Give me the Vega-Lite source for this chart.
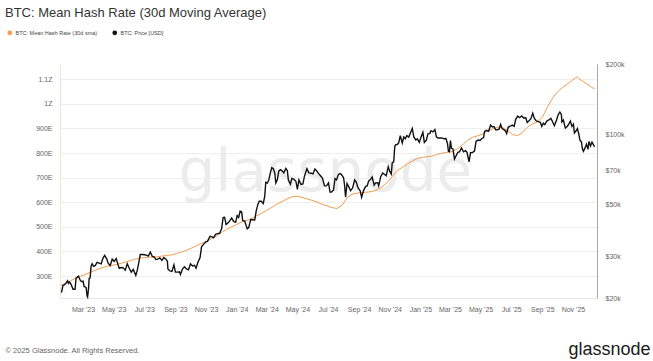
{
  "$schema": "https://vega.github.io/schema/vega-lite/v6.json",
  "width": 537,
  "height": 234,
  "autosize": "none",
  "padding": {"left": 60, "top": 64, "right": 56, "bottom": 63},
  "background": "white",
  "title": {
    "text": "BTC: Mean Hash Rate (30d Moving Average)",
    "anchor": "start",
    "frame": "group",
    "dx": -55,
    "offset": 10,
    "fontSize": 13,
    "fontWeight": "normal",
    "font": "Liberation Sans",
    "color": "#333333"
  },
  "config": {
    "view": {"stroke": null},
    "font": "Liberation Sans",
    "axis": {"labelFont": "Liberation Sans", "labelFontSize": 7, "labelColor": "#666666", "ticks": false}
  },
  "datasets": {
    "hash": [
      {"d":"2023-01-16","v":262},{"d":"2023-01-26","v":270},{"d":"2023-02-05","v":282},{"d":"2023-02-15","v":293},
      {"d":"2023-02-25","v":300},{"d":"2023-03-07","v":308},{"d":"2023-03-17","v":317},{"d":"2023-03-27","v":325},
      {"d":"2023-04-06","v":333},{"d":"2023-04-16","v":339},{"d":"2023-04-26","v":343},{"d":"2023-05-06","v":347},
      {"d":"2023-05-16","v":352},{"d":"2023-05-26","v":358},{"d":"2023-06-05","v":364},{"d":"2023-06-15","v":371},
      {"d":"2023-06-25","v":374},{"d":"2023-07-05","v":376},{"d":"2023-07-15","v":377},{"d":"2023-07-25","v":378},
      {"d":"2023-08-04","v":381},{"d":"2023-08-14","v":384},{"d":"2023-08-24","v":386},{"d":"2023-09-03","v":392},
      {"d":"2023-09-13","v":398},{"d":"2023-09-23","v":405},{"d":"2023-10-03","v":414},{"d":"2023-10-13","v":424},
      {"d":"2023-10-23","v":433},{"d":"2023-11-02","v":441},{"d":"2023-11-12","v":452},{"d":"2023-11-22","v":463},
      {"d":"2023-12-02","v":477},{"d":"2023-12-12","v":490},{"d":"2023-12-22","v":500},{"d":"2024-01-01","v":510},
      {"d":"2024-01-11","v":520},{"d":"2024-01-21","v":526},{"d":"2024-01-31","v":534},{"d":"2024-02-10","v":545},
      {"d":"2024-02-20","v":556},{"d":"2024-03-01","v":567},{"d":"2024-03-11","v":580},{"d":"2024-03-21","v":592},
      {"d":"2024-03-31","v":603},{"d":"2024-04-10","v":613},{"d":"2024-04-20","v":622},{"d":"2024-04-30","v":625},
      {"d":"2024-05-10","v":620},{"d":"2024-05-20","v":614},{"d":"2024-05-30","v":608},{"d":"2024-06-09","v":601},
      {"d":"2024-06-19","v":592},{"d":"2024-06-29","v":586},{"d":"2024-07-09","v":578},{"d":"2024-07-19","v":575},
      {"d":"2024-07-29","v":588},{"d":"2024-08-08","v":618},{"d":"2024-08-18","v":633},{"d":"2024-08-28","v":637},
      {"d":"2024-09-07","v":640},{"d":"2024-09-17","v":641},{"d":"2024-09-27","v":644},{"d":"2024-10-07","v":650},
      {"d":"2024-10-17","v":663},{"d":"2024-10-27","v":680},{"d":"2024-11-06","v":705},{"d":"2024-11-16","v":728},
      {"d":"2024-11-26","v":742},{"d":"2024-12-06","v":756},{"d":"2024-12-16","v":768},{"d":"2024-12-26","v":778},
      {"d":"2025-01-05","v":783},{"d":"2025-01-15","v":785},{"d":"2025-01-25","v":788},{"d":"2025-02-04","v":795},
      {"d":"2025-02-14","v":800},{"d":"2025-02-24","v":803},{"d":"2025-03-06","v":806},{"d":"2025-03-16","v":817},
      {"d":"2025-03-26","v":833},{"d":"2025-04-05","v":852},{"d":"2025-04-15","v":864},{"d":"2025-04-25","v":870},
      {"d":"2025-05-05","v":877},{"d":"2025-05-15","v":889},{"d":"2025-05-25","v":898},{"d":"2025-06-04","v":905},
      {"d":"2025-06-14","v":903},{"d":"2025-06-24","v":892},{"d":"2025-07-04","v":875},{"d":"2025-07-14","v":871},
      {"d":"2025-07-24","v":885},{"d":"2025-08-03","v":907},{"d":"2025-08-13","v":918},{"d":"2025-08-23","v":928},
      {"d":"2025-09-02","v":948},{"d":"2025-09-12","v":990},{"d":"2025-09-22","v":1025},{"d":"2025-10-02","v":1050},
      {"d":"2025-10-12","v":1068},{"d":"2025-10-22","v":1082},{"d":"2025-11-01","v":1098},{"d":"2025-11-09","v":1110},
      {"d":"2025-11-17","v":1097},{"d":"2025-11-25","v":1086},{"d":"2025-12-03","v":1075},{"d":"2025-12-09","v":1066},
      {"d":"2025-12-14","v":1062}
    ],
    "price": [
      {"d":"2023-01-17","v":21100},{"d":"2023-01-20","v":22700},{"d":"2023-01-22","v":22700},{"d":"2023-01-25","v":23000},
      {"d":"2023-01-29","v":23700},{"d":"2023-01-31","v":23100},{"d":"2023-02-02","v":23400},{"d":"2023-02-05","v":22900},
      {"d":"2023-02-09","v":21800},{"d":"2023-02-13","v":21800},{"d":"2023-02-15","v":24300},{"d":"2023-02-20","v":24800},
      {"d":"2023-02-23","v":23900},{"d":"2023-02-26","v":23500},{"d":"2023-03-01","v":23600},{"d":"2023-03-03","v":22400},
      {"d":"2023-03-07","v":22200},{"d":"2023-03-09","v":20400},{"d":"2023-03-10","v":20200},{"d":"2023-03-12","v":22100},
      {"d":"2023-03-13","v":24200},{"d":"2023-03-15","v":24400},{"d":"2023-03-17","v":27400},{"d":"2023-03-19","v":28000},
      {"d":"2023-03-22","v":27300},{"d":"2023-03-25","v":27500},{"d":"2023-03-29","v":28400},{"d":"2023-04-02","v":28200},
      {"d":"2023-04-06","v":28000},{"d":"2023-04-10","v":29700},{"d":"2023-04-13","v":30400},{"d":"2023-04-17","v":29400},
      {"d":"2023-04-20","v":28200},{"d":"2023-04-24","v":27500},{"d":"2023-04-28","v":29300},{"d":"2023-05-02","v":28700},
      {"d":"2023-05-06","v":29500},{"d":"2023-05-10","v":27600},{"d":"2023-05-12","v":26800},{"d":"2023-05-16","v":27000},
      {"d":"2023-05-20","v":26900},{"d":"2023-05-24","v":26300},{"d":"2023-05-28","v":28000},{"d":"2023-06-01","v":26800},
      {"d":"2023-06-05","v":25800},{"d":"2023-06-09","v":26500},{"d":"2023-06-14","v":25000},{"d":"2023-06-17","v":26300},
      {"d":"2023-06-20","v":28300},{"d":"2023-06-23","v":30700},{"d":"2023-06-27","v":30700},{"d":"2023-07-01","v":30600},
      {"d":"2023-07-05","v":30500},{"d":"2023-07-09","v":30200},{"d":"2023-07-13","v":31400},{"d":"2023-07-17","v":30100},
      {"d":"2023-07-21","v":29900},{"d":"2023-07-24","v":29200},{"d":"2023-07-28","v":29300},{"d":"2023-08-01","v":29700},
      {"d":"2023-08-05","v":29000},{"d":"2023-08-09","v":29800},{"d":"2023-08-13","v":29300},{"d":"2023-08-16","v":28700},
      {"d":"2023-08-17","v":26600},{"d":"2023-08-21","v":26100},{"d":"2023-08-25","v":26000},{"d":"2023-08-29","v":27700},
      {"d":"2023-09-01","v":25800},{"d":"2023-09-05","v":25800},{"d":"2023-09-09","v":25900},{"d":"2023-09-11","v":25200},
      {"d":"2023-09-15","v":26600},{"d":"2023-09-19","v":27200},{"d":"2023-09-23","v":26600},{"d":"2023-09-27","v":26400},
      {"d":"2023-10-01","v":28000},{"d":"2023-10-05","v":27400},{"d":"2023-10-09","v":27600},{"d":"2023-10-12","v":26800},
      {"d":"2023-10-16","v":28500},{"d":"2023-10-20","v":29700},{"d":"2023-10-23","v":33100},{"d":"2023-10-27","v":33900},
      {"d":"2023-10-31","v":34700},{"d":"2023-11-04","v":35000},{"d":"2023-11-09","v":36700},{"d":"2023-11-13","v":36500},
      {"d":"2023-11-16","v":36200},{"d":"2023-11-20","v":37400},{"d":"2023-11-24","v":37700},{"d":"2023-11-28","v":37800},
      {"d":"2023-12-02","v":39500},{"d":"2023-12-05","v":44100},{"d":"2023-12-08","v":44200},{"d":"2023-12-11","v":41200},
      {"d":"2023-12-15","v":41900},{"d":"2023-12-18","v":42700},{"d":"2023-12-22","v":43900},{"d":"2023-12-26","v":42500},
      {"d":"2023-12-30","v":42100},{"d":"2024-01-02","v":45000},{"d":"2024-01-05","v":44200},{"d":"2024-01-08","v":47000},
      {"d":"2024-01-11","v":46600},{"d":"2024-01-13","v":42800},{"d":"2024-01-17","v":42700},{"d":"2024-01-22","v":39500},
      {"d":"2024-01-25","v":40000},{"d":"2024-01-29","v":43300},{"d":"2024-02-02","v":43200},{"d":"2024-02-06","v":43100},
      {"d":"2024-02-09","v":47100},{"d":"2024-02-12","v":50000},{"d":"2024-02-15","v":51800},{"d":"2024-02-19","v":51800},
      {"d":"2024-02-23","v":50700},{"d":"2024-02-26","v":54500},{"d":"2024-02-28","v":62400},{"d":"2024-03-02","v":62000},
      {"d":"2024-03-05","v":63800},{"d":"2024-03-08","v":68300},{"d":"2024-03-11","v":72100},{"d":"2024-03-14","v":71400},
      {"d":"2024-03-17","v":68400},{"d":"2024-03-19","v":62000},{"d":"2024-03-22","v":64000},{"d":"2024-03-25","v":69900},
      {"d":"2024-03-28","v":70700},{"d":"2024-04-01","v":69700},{"d":"2024-04-04","v":68500},{"d":"2024-04-08","v":71600},
      {"d":"2024-04-11","v":70100},{"d":"2024-04-13","v":63900},{"d":"2024-04-17","v":61300},{"d":"2024-04-20","v":64900},
      {"d":"2024-04-24","v":64300},{"d":"2024-04-28","v":63100},{"d":"2024-05-01","v":58300},{"d":"2024-05-04","v":63900},
      {"d":"2024-05-08","v":61200},{"d":"2024-05-12","v":61500},{"d":"2024-05-15","v":66200},{"d":"2024-05-20","v":71400},
      {"d":"2024-05-24","v":68500},{"d":"2024-05-28","v":68300},{"d":"2024-06-01","v":67800},{"d":"2024-06-05","v":71100},
      {"d":"2024-06-09","v":69600},{"d":"2024-06-12","v":68200},{"d":"2024-06-16","v":66600},{"d":"2024-06-20","v":64900},
      {"d":"2024-06-24","v":60300},{"d":"2024-06-28","v":60300},{"d":"2024-07-02","v":62100},{"d":"2024-07-05","v":56700},
      {"d":"2024-07-08","v":56700},{"d":"2024-07-12","v":57900},{"d":"2024-07-15","v":64800},{"d":"2024-07-18","v":64000},
      {"d":"2024-07-22","v":67600},{"d":"2024-07-26","v":68000},{"d":"2024-07-29","v":66800},{"d":"2024-08-01","v":65300},
      {"d":"2024-08-03","v":60800},{"d":"2024-08-05","v":54000},{"d":"2024-08-08","v":61700},{"d":"2024-08-12","v":59400},
      {"d":"2024-08-15","v":57500},{"d":"2024-08-19","v":59000},{"d":"2024-08-23","v":64000},{"d":"2024-08-26","v":62800},
      {"d":"2024-08-30","v":59100},{"d":"2024-09-03","v":57500},{"d":"2024-09-06","v":53900},{"d":"2024-09-10","v":57700},
      {"d":"2024-09-14","v":60000},{"d":"2024-09-17","v":60300},{"d":"2024-09-20","v":63200},{"d":"2024-09-24","v":64300},
      {"d":"2024-09-27","v":65800},{"d":"2024-10-01","v":60800},{"d":"2024-10-04","v":62100},{"d":"2024-10-08","v":62200},
      {"d":"2024-10-10","v":60300},{"d":"2024-10-14","v":66000},{"d":"2024-10-18","v":68400},{"d":"2024-10-22","v":67400},
      {"d":"2024-10-25","v":66600},{"d":"2024-10-29","v":72700},{"d":"2024-11-01","v":69500},{"d":"2024-11-04","v":67800},
      {"d":"2024-11-06","v":75600},{"d":"2024-11-09","v":76500},{"d":"2024-11-11","v":88700},{"d":"2024-11-13","v":90500},
      {"d":"2024-11-16","v":90600},{"d":"2024-11-19","v":92300},{"d":"2024-11-22","v":98900},{"d":"2024-11-26","v":91900},
      {"d":"2024-11-29","v":97500},{"d":"2024-12-02","v":95900},{"d":"2024-12-05","v":98800},{"d":"2024-12-09","v":97400},
      {"d":"2024-12-12","v":101200},{"d":"2024-12-16","v":106100},{"d":"2024-12-19","v":97500},{"d":"2024-12-23","v":94700},
      {"d":"2024-12-26","v":95800},{"d":"2024-12-30","v":92600},{"d":"2025-01-02","v":96900},{"d":"2025-01-06","v":102100},
      {"d":"2025-01-09","v":92500},{"d":"2025-01-13","v":94500},{"d":"2025-01-16","v":100500},{"d":"2025-01-20","v":101100},
      {"d":"2025-01-22","v":103700},{"d":"2025-01-26","v":102600},{"d":"2025-01-30","v":105000},{"d":"2025-02-02","v":97700},
      {"d":"2025-02-05","v":96600},{"d":"2025-02-09","v":96500},{"d":"2025-02-13","v":96600},{"d":"2025-02-17","v":95800},
      {"d":"2025-02-21","v":96100},{"d":"2025-02-24","v":91500},{"d":"2025-02-26","v":84700},{"d":"2025-02-28","v":84300},
      {"d":"2025-03-02","v":94200},{"d":"2025-03-04","v":87200},{"d":"2025-03-07","v":86700},{"d":"2025-03-10","v":78500},
      {"d":"2025-03-13","v":80900},{"d":"2025-03-17","v":84000},{"d":"2025-03-20","v":84200},{"d":"2025-03-24","v":87500},
      {"d":"2025-03-28","v":84300},{"d":"2025-04-01","v":85200},{"d":"2025-04-04","v":83800},{"d":"2025-04-08","v":76300},
      {"d":"2025-04-11","v":83600},{"d":"2025-04-15","v":83600},{"d":"2025-04-19","v":85100},{"d":"2025-04-22","v":93400},
      {"d":"2025-04-26","v":94600},{"d":"2025-04-30","v":94200},{"d":"2025-05-03","v":95900},{"d":"2025-05-07","v":97000},
      {"d":"2025-05-09","v":103000},{"d":"2025-05-13","v":104100},{"d":"2025-05-17","v":103100},{"d":"2025-05-21","v":109600},
      {"d":"2025-05-24","v":107800},{"d":"2025-05-28","v":107800},{"d":"2025-05-31","v":104600},{"d":"2025-06-04","v":104700},
      {"d":"2025-06-07","v":105600},{"d":"2025-06-10","v":110300},{"d":"2025-06-13","v":105900},{"d":"2025-06-17","v":104600},
      {"d":"2025-06-20","v":103300},{"d":"2025-06-22","v":100900},{"d":"2025-06-25","v":107300},{"d":"2025-06-29","v":108400},
      {"d":"2025-07-03","v":109600},{"d":"2025-07-07","v":108200},{"d":"2025-07-10","v":116000},{"d":"2025-07-14","v":119800},
      {"d":"2025-07-18","v":117900},{"d":"2025-07-22","v":119900},{"d":"2025-07-26","v":117600},{"d":"2025-07-30","v":117800},
      {"d":"2025-08-02","v":112500},{"d":"2025-08-05","v":114100},{"d":"2025-08-09","v":116500},{"d":"2025-08-13","v":123300},
      {"d":"2025-08-16","v":117400},{"d":"2025-08-20","v":114300},{"d":"2025-08-24","v":113500},{"d":"2025-08-28","v":112600},
      {"d":"2025-08-31","v":108200},{"d":"2025-09-03","v":111700},{"d":"2025-09-06","v":110200},{"d":"2025-09-10","v":114000},
      {"d":"2025-09-14","v":115300},{"d":"2025-09-18","v":117100},{"d":"2025-09-22","v":112700},{"d":"2025-09-25","v":109000},
      {"d":"2025-09-29","v":114300},{"d":"2025-10-02","v":120500},{"d":"2025-10-06","v":124700},{"d":"2025-10-09","v":121700},
      {"d":"2025-10-10","v":113200},{"d":"2025-10-13","v":115300},{"d":"2025-10-16","v":108200},{"d":"2025-10-17","v":106500},
      {"d":"2025-10-21","v":108400},{"d":"2025-10-24","v":111000},{"d":"2025-10-27","v":114100},{"d":"2025-10-30","v":108300},
      {"d":"2025-11-02","v":110600},{"d":"2025-11-04","v":101500},{"d":"2025-11-07","v":103400},{"d":"2025-11-10","v":106000},
      {"d":"2025-11-13","v":99700},{"d":"2025-11-15","v":94400},{"d":"2025-11-18","v":92900},{"d":"2025-11-20","v":86600},
      {"d":"2025-11-22","v":84700},{"d":"2025-11-25","v":87400},{"d":"2025-11-28","v":90900},{"d":"2025-12-01","v":86300},
      {"d":"2025-12-03","v":93400},{"d":"2025-12-06","v":89300},{"d":"2025-12-09","v":92700},{"d":"2025-12-12","v":90300},
      {"d":"2025-12-14","v":88500}
    ]
  },
  "encoding": {
    "x": {
      "field": "d",
      "type": "temporal",
      "scale": {"domain": [{"year": 2023, "month": 1, "date": 14}, {"year": 2025, "month": 12, "date": 19}]},
      "axis": {
        "format": "%b '%y",
        "tickCount": {"interval": "month", "step": 2},
        "labelPadding": 7,
        "labelAlign": "center",
        "labelColor": "#666666",
        "grid": false,
        "domainColor": "#e8e8e8",
        "title": "© 2025 Glassnode. All Rights Reserved.",
        "titleX": -55,
        "titleY": 52,
        "titleAlign": "left",
        "titleBaseline": "middle",
        "titleFontSize": 7.5,
        "titleFontWeight": "normal",
        "titleColor": "#666666",
        "titleFont": "Liberation Sans"
      }
    }
  },
  "layer": [
    {
      "data": {"name": "hash"},
      "mark": {"type": "line", "strokeWidth": 1, "interpolate": "linear"},
      "encoding": {
        "y": {
          "field": "v",
          "type": "quantitative",
          "scale": {"domain": [211, 1162], "nice": false, "zero": false},
          "axis": {
            "orient": "left",
            "values": [300, 400, 500, 600, 700, 800, 900, 1000, 1100],
            "labelExpr": "format(datum.value * 1e18, '~s')",
            "labelPadding": 8,
            "grid": true,
            "gridColor": "#efefef",
            "domainColor": "#f2e6d2",
            "title": "glassnode",
            "titleAngle": 0,
            "titleX": 118,
            "titleY": 126,
            "titleAlign": "left",
            "titleBaseline": "alphabetic",
            "titleFontSize": 58,
            "titleFontWeight": "normal",
            "titleFont": "DejaVu Sans",
            "titleColor": "#ececec"
          }
        },
        "color": {
          "datum": "BTC: Mean Hash Rate (30d sma)",
          "type": "nominal",
          "scale": {"domain": ["BTC: Mean Hash Rate (30d sma)", "BTC: Price [USD]"], "range": ["#f39c4f", "#111111"]},
          "legend": {
            "title": null,
            "orient": "none",
            "legendX": -53,
            "legendY": -34,
            "direction": "horizontal",
            "symbolType": "circle",
            "symbolSize": 5,
            "symbolStrokeWidth": 2.5,
            "labelFontSize": 5.5,
            "labelColor": "#444444",
            "labelOffset": 3,
            "columnPadding": 10
          }
        }
      }
    },
    {
      "data": {"name": "price"},
      "mark": {"type": "line", "strokeWidth": 1.4},
      "encoding": {
        "y": {
          "field": "v",
          "type": "quantitative",
          "scale": {"type": "log", "domain": [20000, 200000], "nice": false},
          "axis": {
            "orient": "right",
            "values": [20000, 30000, 50000, 70000, 100000, 200000],
            "labelExpr": "'$' + format(datum.value / 1000, 'd') + 'k'",
            "labelPadding": 8,
            "grid": false,
            "domainColor": "#aaaaaa",
            "title": "glassnode",
            "titleAngle": 0,
            "titleX": -29,
            "titleY": 290,
            "titleAlign": "left",
            "titleBaseline": "alphabetic",
            "titleFontSize": 18,
            "titleFontWeight": "normal",
            "titleFont": "Liberation Sans",
            "titleColor": "#1a1a1a"
          }
        },
        "color": {"datum": "BTC: Price [USD]", "type": "nominal"}
      }
    }
  ],
  "resolve": {"scale": {"y": "independent"}, "axis": {"y": "independent"}}
}
